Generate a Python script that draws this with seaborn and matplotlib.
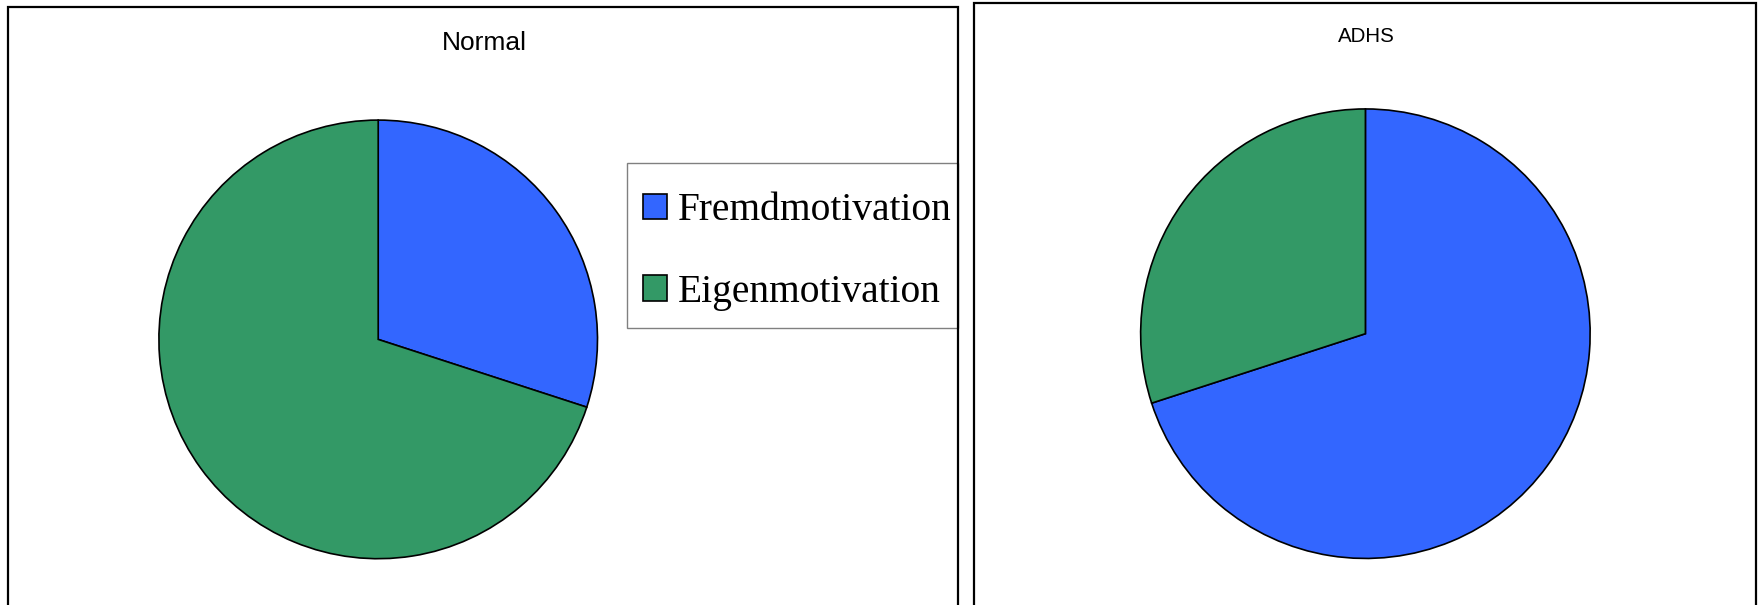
import matplotlib
matplotlib.use("Agg")
import matplotlib.pyplot as plt
from matplotlib.patches import Rectangle
import seaborn as sns

# Data
categories = ["Fremdmotivation", "Eigenmotivation"]
normal_values = [30, 70]
adhs_values = [70, 30]
panel_titles = ["Normal", "ADHS"]

sns.set_theme(style="white")
plt.rcParams["font.family"] = ["Liberation Sans", "DejaVu Sans"]

colors = ["#3366FF", "#339966"]

W, H = 1765, 605
fig = plt.figure(figsize=(W / 100, H / 100), dpi=100)
fig.patch.set_facecolor("white")


def fig_rect(x0, y0, x1, y1, **kw):
    """Rectangle given in pixel coordinates (origin top-left)."""
    return Rectangle((x0 / W, 1 - y1 / H), (x1 - x0) / W, (y1 - y0) / H,
                     transform=fig.transFigure, **kw)


def pie_axes(cx, cy, r):
    return fig.add_axes([(cx - r) / W, 1 - (cy + r) / H, 2 * r / W, 2 * r / H])


def draw_pie(ax, values):
    wedges, _ = ax.pie(values, colors=colors, startangle=90, counterclock=False,
                       radius=1.0,
                       wedgeprops=dict(edgecolor="black", linewidth=1.2))
    ax.set_xlim(-1.01, 1.01)
    ax.set_ylim(-1.01, 1.01)
    ax.set_aspect("equal")
    ax.axis("off")
    return wedges


# Panel frames (open at the bottom edge of the figure)
fig.patches.append(fig_rect(8, 7, 958, 700, fill=False, edgecolor="black",
                            linewidth=1.6, zorder=5))
fig.patches.append(fig_rect(974, 3, 1756, 700, fill=False, edgecolor="black",
                            linewidth=1.6, zorder=5))

ax1 = pie_axes(378.2, 339.4, 221.5)
wedges = draw_pie(ax1, normal_values)
ax2 = pie_axes(1365.4, 333.7, 227.0)
draw_pie(ax2, adhs_values)

fig.text(484 / W, 1 - 43 / H, panel_titles[0], ha="center", va="center",
         fontsize=19, color="black")
fig.text(1366 / W, 1 - 36.5 / H, panel_titles[1], ha="center", va="center",
         fontsize=14.8, color="black")

# Legend box
fig.patches.append(fig_rect(627, 163, 958, 328, facecolor="white",
                            edgecolor="#808080", linewidth=1.0, zorder=3))

leg = fig.legend(wedges, categories, loc="upper left",
                 bbox_to_anchor=(642.7 / W, 1 - 192.5 / H),
                 borderaxespad=0, borderpad=0, frameon=False,
                 labelspacing=1.12, handlelength=0.62, handleheight=0.62,
                 handletextpad=0.28, labelcolor="black",
                 prop={"family": "Liberation Serif", "size": 28.4})
leg.set_zorder(4)

fig.savefig("out.png", dpi=100, facecolor="white")
